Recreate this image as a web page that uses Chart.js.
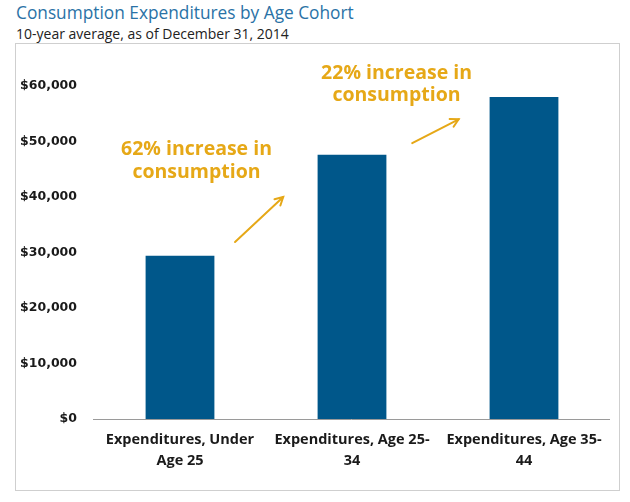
<!DOCTYPE html>
<html>
<head>
<meta charset="utf-8">
<script src="https://cdn.jsdelivr.net/npm/chart.js@4/dist/chart.umd.min.js"></script>
<style>
  html, body { margin: 0; padding: 0; background: #fff; }
  body { width: 630px; height: 502px; position: relative; overflow: hidden; font-family: "Open Sans", Lato, sans-serif; }
  #title { position: absolute; left: 16px; top: 1px; font-size: 17.3px; color: #2a72a6; white-space: nowrap; }
  #subtitle { position: absolute; left: 16px; top: 24px; font-size: 14px; color: #222; white-space: nowrap; }
  #frame { position: absolute; left: 15px; top: 43px; width: 605px; height: 448px; border: 1.5px solid #cfcfcf; box-sizing: border-box; }
  #wrap { position: absolute; left: 0; top: 0; width: 630px; height: 502px; }
</style>
</head>
<body>
<div id="title">Consumption Expenditures by Age Cohort</div>
<div id="subtitle">10-year average, as of December 31, 2014</div>
<div id="frame"></div>
<div id="wrap"><canvas id="c" width="630" height="502"></canvas></div>
<script>
const categories = [
  ['Expenditures, Under', 'Age 25'],
  ['Expenditures, Age 25-', '34'],
  ['Expenditures, Age 35-', '44']
];
const expenditures = [29400, 47600, 58000];
const yTicks = [0, 10000, 20000, 30000, 40000, 50000, 60000];

// annotation anchors in data units (category index, value)
const annotationText = [
  { x: 0.096, y1: 48650, y2: 44500 },
  { x: 1.259, y1: 62300, y2: 58350 }
];
const arrows = [
  { x0: 0.32, y0: 31900, x1: 0.60, y1: 40000 },
  { x0: 1.35, y0: 49700, x1: 1.62, y1: 54000 }
];

const GOLD = '#e6a817';
const FONT = '"Open Sans", Lato, sans-serif';

const annotationPlugin = {
  id: 'annot',
  afterDatasetsDraw(chart) {
    const { ctx, scales: { x, y }, chartArea } = chart;
    ctx.save();
    // baseline
    ctx.strokeStyle = '#9a9a9a';
    ctx.lineWidth = 1;
    ctx.beginPath();
    ctx.moveTo(chartArea.left - 1, y.getPixelForValue(0) + 0.5);
    ctx.lineTo(chartArea.right, y.getPixelForValue(0) + 0.5);
    ctx.stroke();

    ctx.fillStyle = GOLD;
    ctx.font = 'bold 19.5px ' + FONT;
    ctx.textAlign = 'center';
    ctx.textBaseline = 'middle';
    const step = x.getPixelForValue(1) - x.getPixelForValue(0);
    annotationText.forEach((a, i) => {
      const pct = Math.round((expenditures[i + 1] / expenditures[i] - 1) * 100);
      const px = x.getPixelForValue(0) + step * a.x;
      ctx.fillText(pct + '% increase in', px, y.getPixelForValue(a.y1));
      ctx.fillText('consumption', px, y.getPixelForValue(a.y2));
    });

    ctx.strokeStyle = GOLD;
    ctx.lineWidth = 2;
    ctx.lineCap = 'round';
    arrows.forEach(a => {
      const sx = x.getPixelForValue(0) + step * a.x0, sy = y.getPixelForValue(a.y0);
      const ex = x.getPixelForValue(0) + step * a.x1, ey = y.getPixelForValue(a.y1);
      ctx.beginPath();
      ctx.moveTo(sx, sy);
      ctx.lineTo(ex, ey);
      ctx.stroke();
      const ang = Math.atan2(ey - sy, ex - sx);
      const L = 9, w = 0.5;
      ctx.beginPath();
      ctx.moveTo(ex - L * Math.cos(ang - w), ey - L * Math.sin(ang - w));
      ctx.lineTo(ex, ey);
      ctx.lineTo(ex - L * Math.cos(ang + w), ey - L * Math.sin(ang + w));
      ctx.stroke();
    });
    ctx.restore();
  }
};

new Chart(document.getElementById('c'), {
  type: 'bar',
  data: {
    labels: categories,
    datasets: [{
      data: expenditures,
      backgroundColor: '#00578a',
      borderWidth: 0,
      barPercentage: 0.8,
      categoryPercentage: 0.5
    }]
  },
  options: {
    responsive: false,
    animation: false,
    layout: { padding: { top: 86, right: 20, left: 0, bottom: 0 } },
    plugins: { legend: { display: false }, tooltip: { enabled: false } },
    scales: {
      x: {
        grid: { display: false, drawTicks: false },
        border: { display: false },
        ticks: {
          color: '#1a1a1a',
          font: { family: FONT, size: 14.5, weight: 'bold', lineHeight: 1.45 },
          padding: 10,
          maxRotation: 0,
          autoSkip: false
        },
        afterFit(scale) { scale.height = 83; }
      },
      y: {
        min: 0,
        max: 60000,
        afterBuildTicks(scale) { scale.ticks = yTicks.map(v => ({ value: v })); },
        grid: { display: false, drawTicks: false },
        border: { display: false },
        ticks: {
          color: '#1a1a1a',
          font: { family: '"DejaVu Sans", sans-serif', size: 12.5, weight: 'bold' },
          padding: 17,
          callback: v => '$' + v.toLocaleString('en-US')
        },
        afterFit(scale) { scale.width = 94; }
      }
    }
  },
  plugins: [annotationPlugin]
});
</script>
</body>
</html>
